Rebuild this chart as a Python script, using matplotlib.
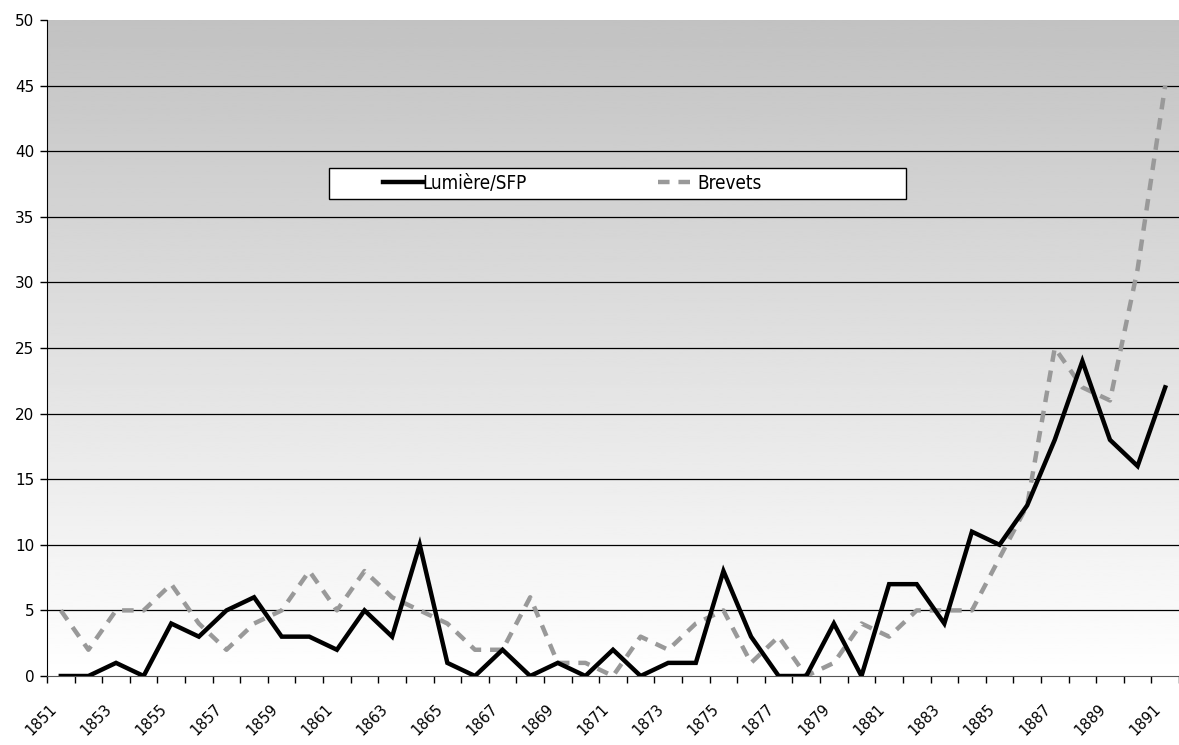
import numpy as np
import matplotlib
matplotlib.use("Agg")
import matplotlib.pyplot as plt
from matplotlib.patches import Rectangle
from matplotlib.transforms import ScaledTranslation

years = list(range(1851, 1892))
lumiere = [0, 0, 1, 0, 4, 3, 5, 6, 3, 3, 2, 5, 3, 10, 1, 0, 2, 0, 1, 0, 2,
           0, 1, 1, 8, 3, 0, 0, 4, 0, 7, 7, 4, 11, 10, 13, 18, 24, 18, 16, 22]
brevets = [5, 2, 5, 5, 7, 4, 2, 4, 5, 8, 5, 8, 6, 5, 4, 2, 2, 6, 1, 1, 0,
           3, 2, 4, 5, 1, 3, 0, 1, 4, 3, 5, 5, 5, 9, 13, 25, 22, 21, 31, 45]
labels = ["Lumière/SFP", "Brevets"]

plt.rcParams["font.family"] = ["DejaVu Sans"]

fig = plt.figure(figsize=(11.79, 7.45), dpi=100)
ax = fig.add_axes([47 / 1179, 1 - 676 / 745, 1 - 47 / 1179, 656 / 745])

n = len(years)
x = np.arange(n)
ax.set_xlim(-0.5, n - 0.5)
ax.set_ylim(0, 50)

# gradient background, white at the bottom, grey at the top
grad = np.linspace(1.0, 0.76, 256).reshape(-1, 1)
ax.imshow(grad, extent=(-0.5, n - 0.5, 0, 50), origin="lower", aspect="auto",
          cmap="gray", vmin=0, vmax=1, zorder=0)

for yv in range(5, 50, 5):
    ax.axhline(yv, color="black", lw=0.9, zorder=1)

ax.plot(x, brevets, color="#999999", lw=3.2, dashes=(2.6, 2.0),
        label=labels[1], zorder=3)
ax.plot(x, lumiere, color="black", lw=3.2, label=labels[0], zorder=4,
        solid_joinstyle="miter")

# axes decoration
for side in ["top", "right"]:
    ax.spines[side].set_visible(False)
ax.spines["left"].set_color("black")
ax.spines["bottom"].set_color("#555555")

ax.set_yticks(range(0, 51, 5))
ax.tick_params(axis="y", direction="out", length=5, width=1, labelsize=11,
               pad=4)
ax.set_xticks(x[::2])
ax.set_xticklabels([str(y) for y in years[::2]], rotation=45, ha="right",
                   va="top", rotation_mode="anchor")
ax.set_xticks(np.arange(-0.5, n, 1), minor=True)
ax.tick_params(axis="x", which="major", length=0, labelsize=10.5, pad=18)
ax.tick_params(axis="x", which="minor", direction="out", length=5, width=1)
shift = ScaledTranslation(-0.12, 0, fig.dpi_scale_trans)
for lab in ax.get_xticklabels():
    lab.set_transform(lab.get_transform() + shift)

# legend box
ax.add_patch(Rectangle((0.249, 0.727), 0.51, 0.047, transform=ax.transAxes,
                       facecolor="white", edgecolor="black", lw=1, zorder=5))
h, l = ax.get_legend_handles_labels()
leg = ax.legend(h[::-1], l[::-1], loc="center left",
                bbox_to_anchor=(0.297, 0.7515), ncol=2, frameon=False,
                handlelength=2.1, handletextpad=0.0, columnspacing=7.0,
                borderpad=0, borderaxespad=0,
                prop={"family": "DejaVu Sans", "stretch": "condensed",
                      "size": 13.5})
leg.set_zorder(6)

fig.savefig("out.png", dpi=100)
